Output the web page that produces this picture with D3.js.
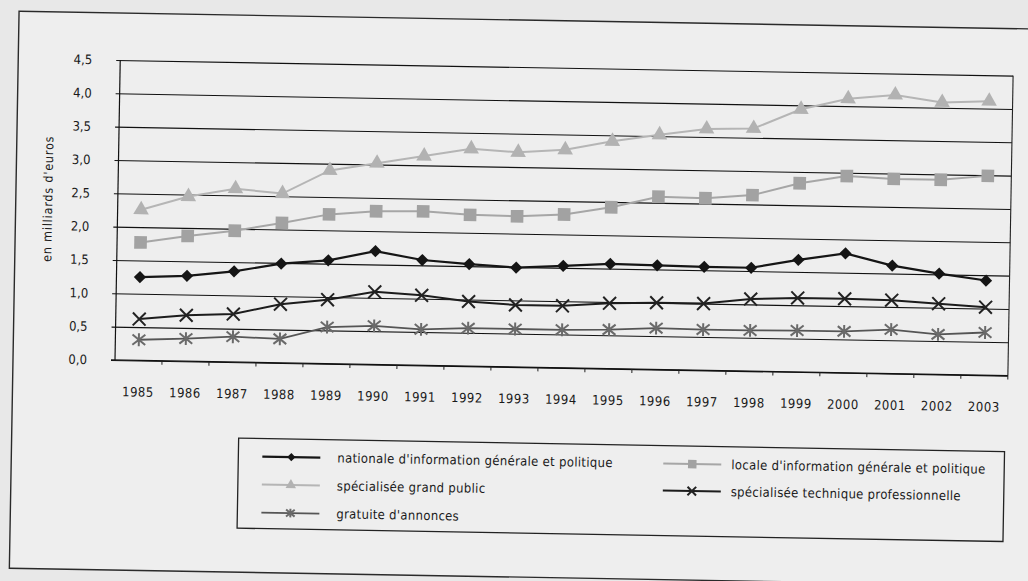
<!DOCTYPE html>
<html><head><meta charset="utf-8">
<script src="https://cdn.jsdelivr.net/npm/d3@7"></script>
<style>
html,body{margin:0;padding:0;background:#e9e9e9;}
svg{display:block;}
text{font-family:"Liberation Sans Narrow","DejaVu Sans Condensed","Arial Narrow",sans-serif;fill:#1a1a1a;}
</style></head>
<body>
<svg id="chart" width="1028" height="581"></svg>
<script>
const years = ["1985","1986","1987","1988","1989","1990","1991","1992","1993","1994","1995","1996","1997","1998","1999","2000","2001","2002","2003"];
const nationale = [1.25,1.28,1.36,1.49,1.55,1.70,1.58,1.53,1.49,1.53,1.57,1.56,1.55,1.55,1.68,1.79,1.62,1.51,1.42];
const locale = [1.77,1.88,1.97,2.10,2.24,2.30,2.31,2.27,2.26,2.30,2.42,2.59,2.58,2.64,2.83,2.95,2.92,2.92,2.99];
const grandPublic = [2.26,2.47,2.60,2.54,2.90,3.02,3.14,3.26,3.22,3.27,3.41,3.52,3.62,3.64,3.94,4.11,4.18,4.08,4.11];
const technique = [0.62,0.69,0.72,0.88,0.96,1.09,1.05,0.97,0.93,0.93,0.98,1.00,1.00,1.08,1.11,1.11,1.10,1.06,1.02];
const gratuite = [0.31,0.34,0.38,0.36,0.55,0.58,0.54,0.57,0.57,0.57,0.585,0.62,0.61,0.61,0.62,0.62,0.66,0.60,0.64];
const yTicks = [0,0.5,1,1.5,2,2.5,3,3.5,4,4.5];
const yTitle = "en milliards d'euros";
const seriesNames = ["nationale d'information générale et politique","locale d'information générale et politique","spécialisée grand public","spécialisée technique professionnelle","gratuite d'annonces"];

// custom marker shapes
const symDiamond = {draw(ctx,size){const r=Math.sqrt(size)/2;ctx.moveTo(0,-r);ctx.lineTo(r,0);ctx.lineTo(0,r);ctx.lineTo(-r,0);ctx.closePath();}};
const symX = {draw(ctx,size){const r=Math.sqrt(size)/2;ctx.moveTo(-r,-r);ctx.lineTo(r,r);ctx.moveTo(r,-r);ctx.lineTo(-r,r);}};
const symStar = {draw(ctx,size){const r=Math.sqrt(size)/2;ctx.moveTo(-r,-r*0.8);ctx.lineTo(r,r*0.8);ctx.moveTo(r,-r*0.8);ctx.lineTo(-r,r*0.8);ctx.moveTo(0,-r);ctx.lineTo(0,r);}};

const series = [
  {name:seriesNames[0], values:nationale, line:"#151515", fill:"#151515", stroke:"none", sym:symDiamond, size:150, sw:2.2},
  {name:seriesNames[1], values:locale, line:"#a6a6a6", fill:"#a2a2a2", stroke:"none", sym:d3.symbolSquare, size:160, sw:2},
  {name:seriesNames[2], values:grandPublic, line:"#b5b5b5", fill:"#b2b2b2", stroke:"none", sym:d3.symbolTriangle, size:105, sw:2},
  {name:seriesNames[3], values:technique, line:"#1c1c1c", fill:"none", stroke:"#222", sym:symX, size:165, sw:2},
  {name:seriesNames[4], values:gratuite, line:"#555", fill:"none", stroke:"#6a6a6a", sym:symStar, size:165, sw:1.8}
];

const svg = d3.select("#chart");
svg.append("rect").attr("width",1028).attr("height",581).attr("fill","#e8e8e8");
const g = svg.append("g").attr("transform","rotate(1.0,115,360)");

// outer frame
g.append("rect").attr("x",13).attr("y",13).attr("width",1060).attr("height",557)
  .attr("fill","#eeeeee").attr("stroke","#2a2a2a").attr("stroke-width",1.4);

const x = d3.scaleBand().domain(years).range([115,1008]).padding(0);
const y = d3.scaleLinear().domain([0,4.5]).range([360,60]);
const cx = d => x(d) + x.bandwidth()/2;

// gridlines + y labels
const yAxis = d3.axisLeft(y).tickValues(yTicks).tickSize(-(1008-111)).tickSizeOuter(0)
  .tickPadding(24).tickFormat(d => d3.format(".1f")(d).replace(".",","));
const ya = g.append("g").attr("transform","translate(111,0)").call(yAxis);
ya.select(".domain").remove();
ya.selectAll("line").attr("stroke","#111").attr("stroke-width",1.1);
ya.selectAll("text").attr("font-size",13).attr("fill","#1a1a1a")
  .style("font-family","'Liberation Sans Narrow','DejaVu Sans Condensed',sans-serif");

// y axis line and right border
g.append("line").attr("x1",115).attr("x2",115).attr("y1",y(4.5)).attr("y2",y(0)).attr("stroke","#111").attr("stroke-width",1.2);
g.append("line").attr("x1",1008).attr("x2",1008).attr("y1",y(4.5)).attr("y2",y(0)).attr("stroke","#222").attr("stroke-width",1.1);

// x axis
const xAxis = d3.axisBottom(x).tickSize(0).tickPadding(27);
const xa = g.append("g").attr("transform",`translate(0,${y(0)})`).call(xAxis);
xa.select(".domain").remove();
xa.selectAll("text").attr("font-size",13).attr("letter-spacing","0.5px")
  .style("font-family","'Liberation Sans Narrow','DejaVu Sans Condensed',sans-serif");
g.append("line").attr("x1",111).attr("x2",1008).attr("y1",y(0)).attr("y2",y(0)).attr("stroke","#111").attr("stroke-width",1.2);
g.append("g").selectAll("line").data(years.slice(1).concat(["end"])).join("line")
  .attr("x1",(d,i)=>115 + (i+1)*x.step()).attr("x2",(d,i)=>115 + (i+1)*x.step())
  .attr("y1",y(0)).attr("y2",y(0)+4).attr("stroke","#222").attr("stroke-width",1);

// y title
g.append("text").attr("transform","translate(46,200) rotate(-90)").attr("text-anchor","middle")
  .attr("dominant-baseline","middle").attr("font-size",12.5).attr("letter-spacing","0.8px").text(yTitle);

// series
const lineGen = d3.line().x((d,i)=>cx(years[i])).y(d=>y(d));
series.forEach(s=>{
  g.append("path").attr("d",lineGen(s.values)).attr("fill","none").attr("stroke",s.line).attr("stroke-width",s.sw);
  g.append("g").selectAll("path").data(s.values).join("path")
    .attr("transform",(d,i)=>`translate(${cx(years[i])},${y(d)})`)
    .attr("d",d3.symbol().type(s.sym).size(s.size))
    .attr("fill",s.fill).attr("stroke",s.stroke).attr("stroke-width",s.stroke==="none"?0:2);
});

// legend
g.append("rect").attr("x",240).attr("y",436).attr("width",766).attr("height",90)
  .attr("fill","none").attr("stroke","#222").attr("stroke-width",1.3);
const legPos = [[293,454],[694,454],[293,482],[694,481],[293,510]];
series.forEach((s,i)=>{
  const [mx,my] = legPos[i];
  const lg = g.append("g");
  lg.append("line").attr("x1",mx-29).attr("x2",mx+29).attr("y1",my).attr("y2",my).attr("stroke",s.line).attr("stroke-width",s.sw);
  lg.append("path").attr("transform",`translate(${mx},${my})`).attr("d",d3.symbol().type(s.sym).size(s.size*0.45))
    .attr("fill",s.fill).attr("stroke",s.stroke).attr("stroke-width",s.stroke==="none"?0:2);
  lg.append("text").attr("x",mx+(i%2===0?46:39)).attr("y",my+1).attr("dominant-baseline","middle")
    .attr("font-size",13).attr("letter-spacing","0.3px").text(s.name);
});
</script>
</body></html>
